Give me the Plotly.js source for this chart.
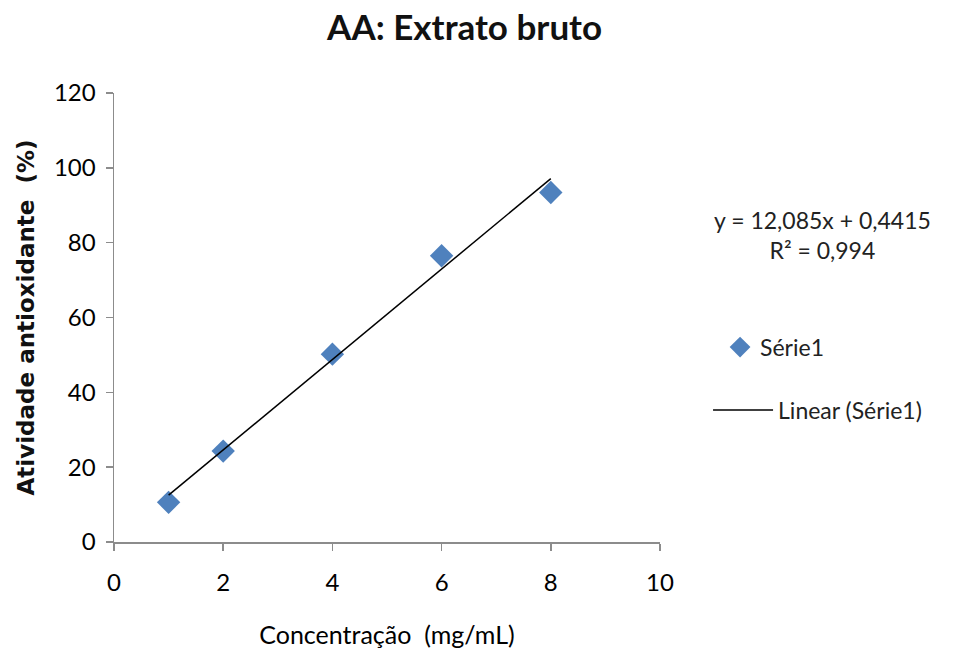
<!DOCTYPE html>
<html>
<head>
<meta charset="utf-8">
<script src="https://cdn.plot.ly/plotly-3.0.1.min.js"></script>
<style>html,body{margin:0;padding:0;background:#fff;}#chart{width:954px;height:657px;}</style>
</head>
<body>
<div id="chart"></div>
<script>
// Data
const concentracao = [1, 2, 4, 6, 8];
const atividade = [10.6, 24.3, 50.2, 76.5, 93.4];
// Trendline coefficients as printed on the chart
const slope = 12.085;
const intercept = 0.4415;
const r2 = 0.994;
const slopeLabel = "12,085";
const interceptLabel = "0,4415";
const r2Label = "0,994";
const xTicks = [0, 2, 4, 6, 8, 10];
const yTicks = [0, 20, 40, 60, 80, 100, 120];

const trendX = [Math.min(...concentracao), Math.max(...concentracao)];
const trendY = trendX.map(x => slope * x + intercept);

const txtFont = "Lato, 'Open Sans', sans-serif";
const axisCol = '#8c8c8c';

const traces = [
  {
    x: concentracao, y: atividade, type: 'scatter', mode: 'markers', name: 'Série1',
    marker: {symbol: 'diamond', size: 18, color: '#4F81BD'},
    legend: 'legend'
  },
  {
    x: trendX, y: trendY, type: 'scatter', mode: 'lines', name: 'Linear (Série1)',
    line: {color: '#000', width: 1.5},
    legend: 'legend2'
  }
];

const layout = {
  width: 954, height: 657,
  margin: {l: 114, r: 294, t: 93, b: 115},
  paper_bgcolor: '#fff', plot_bgcolor: '#fff',
  font: {family: txtFont, color: '#222'},
  title: {
    text: '<b>AA: Extrato bruto</b>',
    font: {family: txtFont, size: 35, color: '#111'},
    x: 0.487, xref: 'container', xanchor: 'center',
    y: 0.958, yref: 'container', yanchor: 'middle'
  },
  xaxis: {
    range: [0, 10], tickvals: xTicks, ticktext: xTicks.map(String),
    showline: true, linecolor: axisCol, linewidth: 1.5,
    ticks: 'outside', ticklen: 7, tickcolor: axisCol, tickwidth: 1.5,
    showgrid: false, zeroline: false,
    tickfont: {family: txtFont, size: 24, color: '#000'},
    ticklabelstandoff: 12,
    title: {text: 'Concentração  (mg/mL)', font: {family: txtFont, size: 25, color: '#000'}, standoff: 31}
  },
  yaxis: {
    range: [0, 120], tickvals: yTicks, ticktext: yTicks.map(String),
    showline: true, linecolor: axisCol, linewidth: 1.5,
    ticks: 'outside', ticklen: 7, tickcolor: axisCol, tickwidth: 1.5,
    showgrid: false, zeroline: false,
    tickfont: {family: txtFont, size: 24, color: '#000'},
    ticklabelstandoff: 5,
    title: {text: '<b>Atividade antioxidante  (%)</b>', font: {family: "'DejaVu Sans', sans-serif", size: 23, color: '#111'}, standoff: 13}
  },
  showlegend: true,
  legend: {
    x: 1.11, xref: 'paper', xanchor: 'left', y: 0.434, yanchor: 'middle',
    font: {family: txtFont, size: 23, color: '#222'}, bgcolor: 'rgba(0,0,0,0)'
  },
  legend2: {
    x: 1.088, xref: 'paper', xanchor: 'left', y: 0.294, yanchor: 'middle',
    itemwidth: 60,
    font: {family: txtFont, size: 23, color: '#222'}, bgcolor: 'rgba(0,0,0,0)'
  },
  annotations: [
    {
      xref: 'paper', yref: 'paper', x: 1.2985, y: 0.684, xanchor: 'center', yanchor: 'middle',
      showarrow: false, align: 'center',
      text: 'y = ' + slopeLabel + 'x + ' + interceptLabel + '<br>R² = ' + r2Label,
      font: {family: txtFont, size: 23, color: '#222'}
    }
  ]
};

Plotly.newPlot('chart', traces, layout, {displayModeBar: false, staticPlot: true});
</script>
</body>
</html>
